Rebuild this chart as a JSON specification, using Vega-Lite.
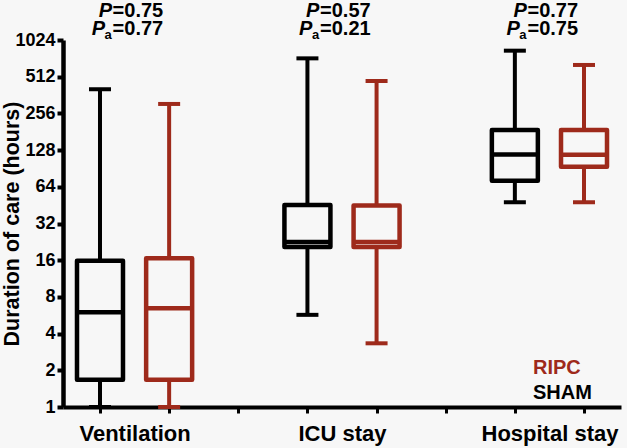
{
  "$schema": "https://vega.github.io/schema/vega-lite/v6.json",
  "width": 558,
  "height": 367,
  "autosize": {"type": "none"},
  "padding": {"left": 63, "top": 40, "right": 6, "bottom": 41},
  "background": "#f7f7f7",
  "config": {
    "view": {"stroke": null},
    "font": "Liberation Sans",
    "axisX": {
      "domainColor": "#000000", "domainWidth": 4, "tickColor": "#000000", "tickWidth": 3, "tickSize": 6,
      "labelFont": "Liberation Sans", "labelFontSize": 22, "labelFontWeight": "bold", "labelColor": "#000000",
      "labelAngle": 0, "labelOffset": 34.6, "labelPadding": 10, "labelOverlap": false, "grid": false
    },
    "axisY": {
      "domainColor": "#000000", "domainWidth": 4.5, "tickColor": "#000000", "tickWidth": 4, "tickSize": 6,
      "labelFont": "Liberation Sans", "labelFontSize": 18, "labelFontWeight": "bold", "labelColor": "#000000",
      "labelPadding": 2, "grid": false,
      "titleFont": "Liberation Sans", "titleFontSize": 21.5, "titleFontWeight": "bold", "titleColor": "#000000",
      "titleAngle": 270, "titleBaseline": "bottom", "titleX": -40, "titleY": 183.5
    }
  },
  "datasets": {
    "boxes": [
      {"box": "Ventilation SHAM", "outcome": "Ventilation", "arm": "SHAM", "min": 1, "q1": 1.67, "median": 6.0, "q3": 15.8, "max": 404},
      {"box": "Ventilation RIPC", "outcome": "Ventilation", "arm": "RIPC", "min": 1, "q1": 1.67, "median": 6.45, "q3": 16.6, "max": 306},
      {"box": "ICU stay SHAM", "outcome": "ICU stay", "arm": "SHAM", "min": 5.7, "q1": 20.5, "median": 22.6, "q3": 45.3, "max": 724},
      {"box": "ICU stay RIPC", "outcome": "ICU stay", "arm": "RIPC", "min": 3.33, "q1": 20.5, "median": 22.6, "q3": 45, "max": 472},
      {"box": "Hospital stay SHAM", "outcome": "Hospital stay", "arm": "SHAM", "min": 47.8, "q1": 71.8, "median": 118, "q3": 187, "max": 837},
      {"box": "Hospital stay RIPC", "outcome": "Hospital stay", "arm": "RIPC", "min": 47.8, "q1": 93.5, "median": 117, "q3": 187, "max": 639}
    ],
    "notes": [
      {"box": "Ventilation SHAM", "outcome": "Ventilation", "p": 0.75, "pa": 0.77},
      {"box": "ICU stay SHAM", "outcome": "ICU stay", "p": 0.57, "pa": 0.21},
      {"box": "Hospital stay SHAM", "outcome": "Hospital stay", "p": 0.77, "pa": 0.75}
    ]
  },
  "encoding": {
    "x": {
      "field": "box", "type": "nominal",
      "scale": {"type": "point", "padding": 0.535,
        "domain": ["Ventilation SHAM", "Ventilation RIPC", "gap1", "ICU stay SHAM", "ICU stay RIPC", "gap2", "Hospital stay SHAM", "Hospital stay RIPC"]},
      "axis": {"title": null,
        "labelExpr": "datum.value == 'Ventilation SHAM' ? 'Ventilation' : datum.value == 'ICU stay SHAM' ? 'ICU stay' : datum.value == 'Hospital stay SHAM' ? 'Hospital stay' : ''"}
    }
  },
  "layer": [
    {
      "data": {"name": "boxes"},
      "mark": {"type": "rule", "strokeWidth": 4, "opacity": 1},
      "encoding": {
        "y": {"field": "min", "type": "quantitative", "title": "Duration of care (hours)",
          "scale": {"type": "log", "base": 2, "domain": [1, 1024], "nice": false},
          "axis": {"values": [1, 2, 4, 8, 16, 32, 64, 128, 256, 512, 1024], "format": "d"}},
        "y2": {"field": "q1"},
        "color": {"field": "arm", "type": "nominal",
          "scale": {"domain": ["RIPC", "SHAM"], "range": ["#9e2a1b", "#000000"]},
          "legend": {"title": null, "orient": "none", "legendX": 450, "legendY": 318, "padding": 0,
            "symbolSize": 0, "symbolOpacity": 0, "symbolStrokeWidth": 0, "labelOffset": 0,
            "labelFontSize": 20, "labelFontWeight": "bold", "labelFont": "Liberation Sans", "rowPadding": 5, "labelLimit": 200,
            "encode": {"labels": {"update": {"fill": {"signal": "datum.value === 'RIPC' ? '#9e2a1b' : '#000000'"}}}}}
        }
      }
    },
    {
      "data": {"name": "boxes"},
      "mark": {"type": "rule", "strokeWidth": 4, "opacity": 1},
      "encoding": {
        "y": {"field": "q3", "type": "quantitative", "title": "Duration of care (hours)"},
        "y2": {"field": "max"},
        "color": {"field": "arm", "type": "nominal"}
      }
    },
    {
      "data": {"name": "boxes"},
      "mark": {"type": "tick", "size": 22, "thickness": 4, "opacity": 1},
      "encoding": {
        "y": {"field": "min", "type": "quantitative", "title": "Duration of care (hours)"},
        "color": {"field": "arm", "type": "nominal"}
      }
    },
    {
      "data": {"name": "boxes"},
      "mark": {"type": "tick", "size": 22, "thickness": 4, "opacity": 1},
      "encoding": {
        "y": {"field": "max", "type": "quantitative", "title": "Duration of care (hours)"},
        "color": {"field": "arm", "type": "nominal"}
      }
    },
    {
      "data": {"name": "boxes"},
      "mark": {"type": "bar", "size": 46, "filled": false, "strokeWidth": 4.5, "strokeJoin": "round", "opacity": 1},
      "encoding": {
        "y": {"field": "q1", "type": "quantitative", "title": "Duration of care (hours)"},
        "y2": {"field": "q3"},
        "color": {"field": "arm", "type": "nominal"}
      }
    },
    {
      "data": {"name": "boxes"},
      "mark": {"type": "tick", "size": 46, "thickness": 4.5, "opacity": 1},
      "encoding": {
        "y": {"field": "median", "type": "quantitative", "title": "Duration of care (hours)"},
        "color": {"field": "arm", "type": "nominal"}
      }
    },
    {
      "data": {"name": "notes"},
      "mark": {"type": "text", "text": "P", "fontStyle": "italic", "fontWeight": "bold", "fontSize": 20, "align": "right", "baseline": "alphabetic", "dx": 12, "dy": -23, "color": "#000000"},
      "encoding": {"y": {"datum": 1024}}
    },
    {
      "data": {"name": "notes"},
      "transform": [{"calculate": "'=' + format(datum.p, '.2f')", "as": "p_label"}],
      "mark": {"type": "text", "fontWeight": "bold", "fontSize": 20, "align": "left", "baseline": "alphabetic", "dx": 12.6, "dy": -23, "color": "#000000"},
      "encoding": {"y": {"datum": 1024}, "text": {"field": "p_label"}}
    },
    {
      "data": {"name": "notes"},
      "mark": {"type": "text", "text": "P", "fontStyle": "italic", "fontWeight": "bold", "fontSize": 20, "align": "right", "baseline": "alphabetic", "dx": 5, "dy": -5, "color": "#000000"},
      "encoding": {"y": {"datum": 1024}}
    },
    {
      "data": {"name": "notes"},
      "mark": {"type": "text", "text": "a", "fontWeight": "bold", "fontSize": 13, "align": "left", "baseline": "alphabetic", "dx": 4.5, "dy": -1, "color": "#000000"},
      "encoding": {"y": {"datum": 1024}}
    },
    {
      "data": {"name": "notes"},
      "transform": [{"calculate": "'=' + format(datum.pa, '.2f')", "as": "pa_label"}],
      "mark": {"type": "text", "fontWeight": "bold", "fontSize": 20, "align": "left", "baseline": "alphabetic", "dx": 12.6, "dy": -5, "color": "#000000"},
      "encoding": {"y": {"datum": 1024}, "text": {"field": "pa_label"}}
    }
  ]
}
